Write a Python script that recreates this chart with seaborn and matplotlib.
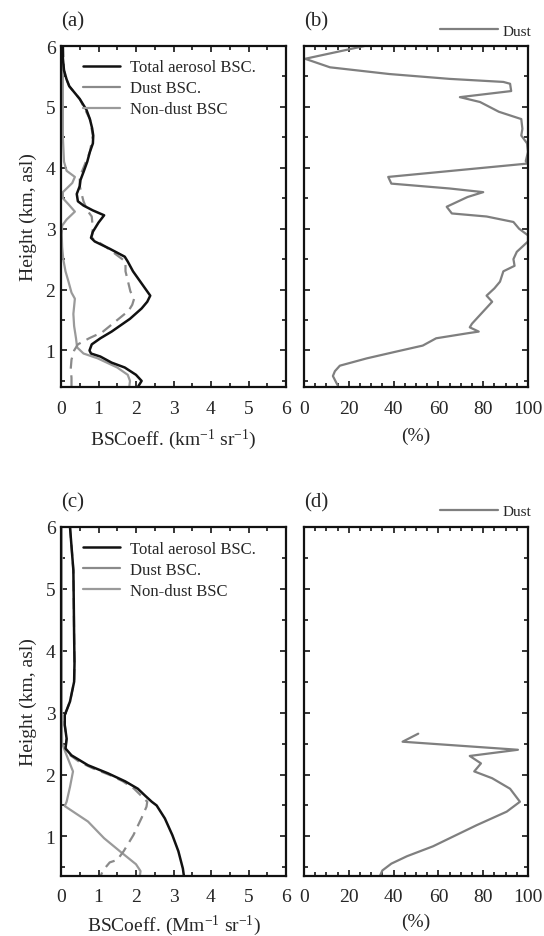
import numpy as np
import pandas as pd
import matplotlib
matplotlib.use("Agg")
import matplotlib.pyplot as plt
from matplotlib.lines import Line2D
from matplotlib.ticker import MultipleLocator
import seaborn as sns

# ---------------- data ----------------
# Panel (a): BSC (km^-1 sr^-1) vs height (km)
a_total_h = [6.0, 5.8, 5.6, 5.45, 5.34, 5.13, 4.95, 4.8, 4.65, 4.53, 4.4, 4.26, 4.1, 3.93, 3.8, 3.7,
             3.57, 3.45, 3.38, 3.3, 3.22, 3.1, 2.95, 2.85, 2.79, 2.67, 2.54, 2.46, 2.3, 2.1, 1.9, 1.8,
             1.69, 1.52, 1.31, 1.2, 1.1, 1.0, 0.95, 0.9, 0.8, 0.72, 0.6, 0.5, 0.45, 0.4]
a_total_x = [0.05, 0.05, 0.08, 0.15, 0.22, 0.5, 0.68, 0.77, 0.83, 0.86, 0.85, 0.77, 0.7, 0.6, 0.52, 0.5,
             0.42, 0.45, 0.6, 0.85, 1.15, 1.0, 0.85, 0.8, 0.9, 1.3, 1.7, 1.78, 1.92, 2.15, 2.38, 2.3,
             2.15, 1.84, 1.35, 1.05, 0.82, 0.76, 0.8, 1.05, 1.35, 1.7, 2.0, 2.15, 2.1, 2.05]

a_dust_h = [6.0, 5.6, 5.45, 5.34, 5.13, 4.8, 4.53, 4.26, 4.0, 3.85, 3.7, 3.57, 3.45, 3.3, 3.2, 3.0,
            2.85, 2.7, 2.46, 2.3, 2.15, 1.97, 1.85, 1.75, 1.65, 1.5, 1.4, 1.3, 1.2, 1.1, 1.0, 0.85,
            0.7, 0.55, 0.4]
a_dust_x = [0.05, 0.08, 0.15, 0.22, 0.5, 0.77, 0.85, 0.77, 0.6, 0.5, 0.5, 0.55, 0.6, 0.7, 0.82, 0.85,
            0.82, 1.2, 1.72, 1.72, 1.78, 1.85, 1.95, 1.9, 1.8, 1.5, 1.3, 1.1, 0.75, 0.45, 0.35, 0.28,
            0.26, 0.28, 0.28]

a_nond_h = [6.0, 5.5, 5.0, 4.5, 4.1, 3.95, 3.85, 3.75, 3.6, 3.5, 3.4, 3.28, 3.15, 3.05, 2.9, 2.7,
            2.5, 2.3, 2.13, 1.95, 1.85, 1.6, 1.4, 1.2, 1.05, 0.95, 0.87, 0.72, 0.6, 0.5, 0.4]
a_nond_x = [0.05, 0.05, 0.05, 0.05, 0.08, 0.15, 0.37, 0.3, 0.05, 0.05, 0.2, 0.37, 0.15, 0.03, 0.02, 0.03,
            0.06, 0.12, 0.2, 0.28, 0.37, 0.33, 0.35, 0.4, 0.43, 0.6, 0.98, 1.5, 1.78, 1.84, 1.82]

# Panel (b): dust fraction (%)
b_h = [6.0, 5.79, 5.65, 5.54, 5.46, 5.41, 5.38, 5.26, 5.16, 5.08, 4.92, 4.8, 4.64, 4.53, 4.4, 4.26,
       4.11, 4.07, 3.85, 3.74, 3.66, 3.6, 3.52, 3.36, 3.25, 3.2, 3.11, 3.0, 2.89, 2.79, 2.62, 2.5,
       2.39, 2.3, 2.13, 2.02, 1.9, 1.8, 1.64, 1.44, 1.38, 1.31, 1.28, 1.2, 1.08, 0.98, 0.87, 0.75,
       0.66, 0.58, 0.43]
b_x = [27, 0.5, 11.6, 38, 65, 89, 92, 92.5, 69.6, 78.6, 87, 97, 97.5, 97, 99.6, 100,
       99, 100, 37.6, 39, 65, 80, 73, 63.7, 66, 81.5, 93.5, 96, 100, 100, 95, 93.5,
       94, 89, 87.5, 85, 81.5, 84, 80, 75, 74, 78, 72.6, 59, 53, 41, 28, 16,
       13.8, 12.9, 15]

# Panel (c): BSC (Mm^-1 sr^-1)
c_total_h = [6.0, 5.3, 4.8, 4.24, 3.8, 3.5, 3.18, 2.96, 2.8, 2.58, 2.42, 2.31, 2.15, 2.02, 1.89,
             1.77, 1.66, 1.56, 1.5, 1.29, 1.02, 0.76, 0.48, 0.35]
c_total_x = [0.24, 0.33, 0.34, 0.35, 0.36, 0.35, 0.24, 0.1, 0.1, 0.15, 0.12, 0.28, 0.72, 1.25, 1.71,
             2.05, 2.24, 2.42, 2.55, 2.77, 2.97, 3.13, 3.25, 3.28]

c_dust_h = [6.0, 5.3, 4.8, 4.24, 3.8, 3.5, 3.18, 2.96, 2.8, 2.58, 2.42, 2.31, 2.2, 2.1, 1.98, 1.89,
            1.77, 1.65, 1.56, 1.48, 1.3, 1.02, 0.76, 0.62, 0.58, 0.45, 0.35]
c_dust_x = [0.24, 0.33, 0.34, 0.35, 0.36, 0.35, 0.24, 0.1, 0.1, 0.15, 0.12, 0.25, 0.5, 0.85, 1.35, 1.65,
            1.95, 2.15, 2.3, 2.28, 2.15, 1.93, 1.67, 1.5, 1.3, 1.12, 1.05]

c_nond_h = [6.0, 4.0, 3.0, 2.5, 2.31, 2.05, 1.8, 1.56, 1.49, 1.24, 0.97, 0.76, 0.55, 0.44, 0.35]
c_nond_x = [0.02, 0.02, 0.02, 0.03, 0.15, 0.32, 0.24, 0.15, 0.1, 0.72, 1.15, 1.57, 2.0, 2.12, 2.1]

# Panel (d): dust fraction (%)
d_h = [2.66, 2.53, 2.4, 2.3, 2.18, 2.05, 1.94, 1.77, 1.56, 1.4, 1.18, 0.97, 0.84, 0.68, 0.56, 0.45, 0.37]
d_x = [51, 44, 95.5, 74, 79, 76, 84, 92, 96.4, 90.5, 77, 65, 57.6, 46, 39, 35, 34]

legend_labels = ["Total aerosol BSC.", "Dust BSC.", "Non-dust BSC"]
panel_labels = ["(a)", "(b)", "(c)", "(d)"]
bsc_ticks = [0, 1, 2, 3, 4, 5, 6]
pct_ticks = [0, 20, 40, 60, 80, 100]
h_ticks = [1, 2, 3, 4, 5, 6]

# ---------------- style ----------------
sns.set_style("ticks")
plt.rcParams["font.family"] = ["Liberation Serif", "DejaVu Serif"]
plt.rcParams["mathtext.fontset"] = "custom"
plt.rcParams["mathtext.rm"] = "Liberation Serif"
plt.rcParams["mathtext.it"] = "Liberation Serif:italic"
plt.rcParams["axes.linewidth"] = 1.5

C_TOTAL = "#111111"
C_DUST = "#8a8a8a"
C_NOND = "#9a9a9a"
C_PCT = "#7f7f7f"
TICKFS = 14
LABFS = 14

fig = plt.figure(figsize=(5.44, 9.37), dpi=100)
W, H = 544, 937


def add_ax(left, top, right, bottom):
    return fig.add_axes([left / W, 1 - bottom / H, (right - left) / W, (bottom - top) / H])


ax_a = add_ax(61, 47, 286, 388)
ax_b = add_ax(304, 47, 528, 388)
ax_c = add_ax(61, 528, 286, 877)
ax_d = add_ax(304, 528, 528, 877)


def line(ax, x, h, color, lw, ls="-"):
    df = pd.DataFrame({"x": x, "h": h})
    sns.lineplot(data=df, x="x", y="h", ax=ax, sort=False, estimator=None,
                 color=color, lw=lw, linestyle=ls, orient="y")


def style_axis(ax, pct, ylo, show_ylabels):
    if pct:
        ax.set_xlim(0, 100)
        ax.xaxis.set_major_locator(MultipleLocator(20))
        ax.xaxis.set_minor_locator(MultipleLocator(5))
        ax.set_xticks(pct_ticks)
    else:
        ax.set_xlim(0, 6)
        ax.xaxis.set_major_locator(MultipleLocator(1))
        ax.xaxis.set_minor_locator(MultipleLocator(0.5))
        ax.set_xticks(bsc_ticks)
    ax.set_ylim(ylo, 6)
    ax.set_yticks(h_ticks)
    ax.yaxis.set_minor_locator(MultipleLocator(0.5))
    ax.tick_params(which="both", direction="in", top=True, right=True, width=1.3,
                   labelsize=TICKFS)
    ax.tick_params(axis="x", which="both", pad=9)
    ax.tick_params(axis="y", which="both", pad=4)
    ax.tick_params(which="major", length=4.5)
    ax.tick_params(which="minor", length=2.8)
    if not show_ylabels:
        ax.set_yticklabels([])
    ax.set_xlabel("")
    ax.set_ylabel("")
    for s in ax.spines.values():
        s.set_linewidth(1.6)
        s.set_color("#111111")


# Panel a
line(ax_a, a_nond_x, a_nond_h, C_NOND, 1.6)
line(ax_a, a_dust_x, a_dust_h, C_DUST, 1.6, (0, (5, 3)))
line(ax_a, a_total_x, a_total_h, C_TOTAL, 1.8)
style_axis(ax_a, False, 0.4, True)

# Panel b
line(ax_b, b_x, b_h, C_PCT, 1.6)
style_axis(ax_b, True, 0.4, False)

# Panel c
line(ax_c, c_nond_x, c_nond_h, C_NOND, 1.6)
line(ax_c, c_dust_x, c_dust_h, C_DUST, 1.6, (0, (5, 3)))
line(ax_c, c_total_x, c_total_h, C_TOTAL, 1.8)
style_axis(ax_c, False, 0.36, True)

# Panel d
line(ax_d, d_x, d_h, C_PCT, 1.6)
style_axis(ax_d, True, 0.36, False)

# legends
handles = [Line2D([], [], color=C_TOTAL, lw=1.8),
           Line2D([], [], color=C_DUST, lw=1.6),
           Line2D([], [], color=C_NOND, lw=1.6)]
for ax in (ax_a, ax_c):
    ax.legend(handles, legend_labels, loc="upper left", bbox_to_anchor=(0.07, 0.98),
              frameon=False, fontsize=12, handlelength=2.2, handletextpad=0.6,
              labelspacing=0.3, borderaxespad=0.0)
for ax in (ax_b, ax_d):
    ax.legend([Line2D([], [], color=C_PCT, lw=1.6)], ["Dust"], loc="lower right",
              bbox_to_anchor=(1.02, 1.02), frameon=False, fontsize=11, handlelength=3.8,
              handletextpad=0.3, borderaxespad=0.0, borderpad=0.1)

# axis labels
for ax in (ax_a, ax_c):
    ax.set_ylabel("Height (km, asl)", fontsize=LABFS, labelpad=6)
ax_a.set_xlabel("BSCoeff. (km$^{-1}$ sr$^{-1}$)", fontsize=LABFS, labelpad=7)
ax_c.set_xlabel("BSCoeff. (Mm$^{-1}$ sr$^{-1}$)", fontsize=LABFS, labelpad=5)
ax_b.set_xlabel("(%)", fontsize=LABFS, labelpad=7)
ax_d.set_xlabel("(%)", fontsize=LABFS, labelpad=5)

# panel labels
for ax, lab in zip((ax_a, ax_b, ax_c, ax_d), panel_labels):
    ax.text(0.0, 1.045, lab, transform=ax.transAxes, fontsize=15, ha="left", va="bottom")

fig.savefig("out.png", dpi=100)
